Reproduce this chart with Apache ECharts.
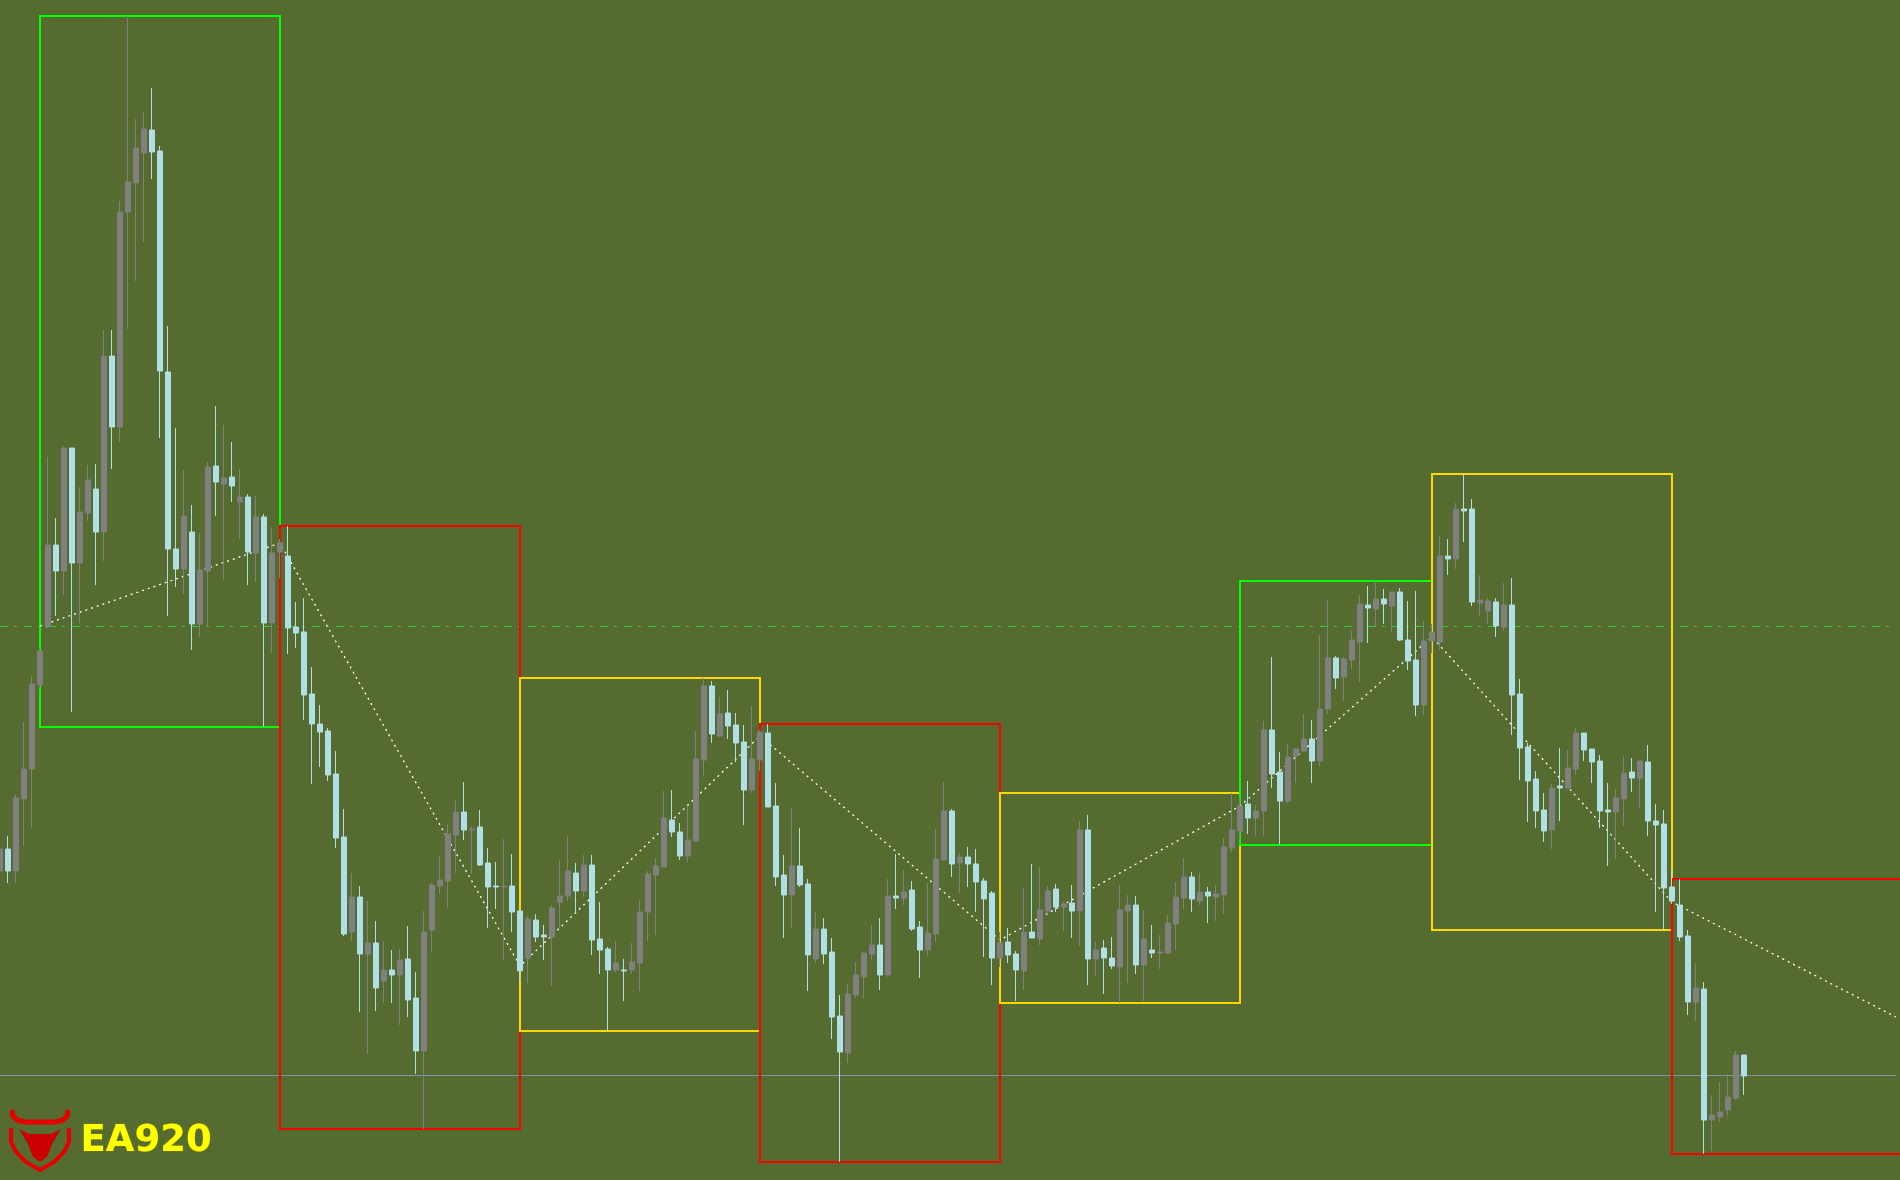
<!DOCTYPE html>
<html>
<head>
<meta charset="utf-8">
<title>EA920</title>
<script src="https://cdn.jsdelivr.net/npm/echarts@6/dist/echarts.min.js"></script>
<style>
  html, body { margin: 0; padding: 0; background: #556b2f; }
  #chart { width: 1900px; height: 1180px; }
</style>
</head>
<body>
<div id="chart"></div>
<script>
// candle OHLC (price in points)
const opens = [
  309,331,309,381,411,495,553,635,609,732, 617,667,691,648,824,753,968,997,1027,1050,
  1029,808,631,611,648,556,609,714,696,703, 678,683,627,663,557,628,624,553,548,486,
  456,449,406,343,248,283,226,237,199,210, 205,221,182,129,250,294,299,345,368,350,
  353,317,294,293,294,269,222,260,245,243, 278,284,307,289,315,241,231,210,210,210,
  217,268,305,313,360,348,324,339,420,494, 444,467,455,438,390,420,447,374,305,285,
  314,296,221,251,228,164,127,185,203,226, 235,205,284,282,290,253,230,246,320,369,
  317,323,316,299,287,222,238,226,209,248, 241,269,291,273,277,269,350,221,232,222,
  213,269,275,215,230,227,227,256,282,303, 279,288,283,285,332,349,376,362,369,450,
  408,379,424,429,441,419,471,522,503,520, 538,575,571,581,574,588,540,520,475,539,
  538,624,621,671,671,577,569,578,553,575, 486,433,401,370,350,394,392,411,447,431,
  419,370,368,381,408,402,418,359,356,293, 275,244,178,191,60,63,70,82,125
];
const closes = [
  331,309,382,411,496,529,635,609,732,617, 668,700,648,824,753,968,998,1032,1051,1028,
  809,631,611,664,556,610,713,698,702,694, 683,628,663,557,627,637,552,547,485,456,
  448,405,342,246,283,226,237,192,210,205, 220,180,129,248,295,300,346,368,350,351,
  315,293,293,294,268,209,261,243,243,272, 284,309,289,315,240,230,210,217,209,218,
  268,306,314,362,348,324,340,421,494,446, 466,454,437,390,421,448,373,303,285,314,
  295,225,251,226,163,128,186,205,227,235, 205,284,282,288,251,230,247,321,369,316,
  323,316,298,281,222,237,225,210,248,242, 270,289,273,276,269,350,221,230,222,214,
  270,275,215,241,227,228,257,283,303,281, 288,284,286,333,350,374,362,369,450,406,
  379,423,431,441,419,471,522,502,521,540, 576,572,581,576,588,540,519,475,539,548,
  624,621,671,669,578,580,579,554,575,485, 432,399,369,349,392,392,412,447,430,418,
  369,368,382,407,402,419,359,355,292,279, 243,178,192,60,65,68,83,125,104
];
const lows = [
  268,297,297,334,352,491,552,564,585,468, 557,659,595,619,711,738,851,899,938,1001,
  742,564,593,586,530,543,553,664,600,678, 641,595,598,453,527,602,526,532,460,396,
  413,399,332,244,239,168,126,169,177,177, 155,163,106,51,228,286,272,307,340,306,
  314,252,271,220,248,197,197,238,220,194, 252,279,266,283,225,206,149,208,179,206,
  189,239,245,313,343,320,318,339,404,437, 443,441,418,355,387,409,373,294,242,252,
  293,189,217,216,141,18,117,182,182,220, 190,203,271,275,249,202,224,238,319,303,
  287,293,268,223,195,213,217,179,190,242, 235,264,268,249,242,234,195,204,186,211,
  177,197,206,179,222,211,226,230,271,268, 275,257,259,266,328,341,346,344,344,392,
  335,377,397,429,397,414,466,491,479,511, 498,537,553,556,548,539,510,464,465,527,
  530,605,611,638,574,564,556,543,549,445, 400,358,352,338,331,359,392,405,419,397,
  352,314,321,354,388,372,344,268,250,276, 239,165,159,26,29,58,64,80,85
];
const highs = [
  405,344,386,458,504,531,723,662,734,732, 693,715,716,850,850,979,1164,1061,1068,1092,
  1034,854,752,710,675,647,718,774,755,738, 711,686,684,666,653,641,654,578,582,513,
  475,452,429,371,307,294,279,259,239,230, 231,254,208,269,297,324,356,380,398,354,
  370,332,318,341,326,269,264,266,255,275, 320,344,317,325,325,278,233,239,221,237,
  280,309,322,389,390,357,373,449,502,499, 483,490,467,455,474,450,456,397,325,372,
  352,301,268,262,242,185,196,218,228,255, 262,301,326,310,299,259,297,351,398,371,
  327,333,331,302,289,248,252,229,292,316, 313,294,296,278,295,359,365,238,240,243,
  295,285,284,270,255,245,265,298,322,308, 307,293,295,342,387,382,399,375,459,523,
  428,436,432,466,460,545,580,524,523,549, 585,594,599,591,588,592,579,589,559,556,
  644,641,677,706,681,605,582,582,597,602, 501,437,409,387,396,432,430,452,447,431,
  425,397,391,424,422,419,435,376,370,311, 301,250,217,198,85,98,106,129,125
];

// bar slots on the axis (the last box runs on past the last candle)
const barCount = 238;
const categories = [];
for (let i = 0; i < barCount; i++) categories.push(String(i));

// boxes: joint bar before each box and its last bar, colour kind
const boxStart = [5, 35, 65, 95, 125, 155, 179, 209];
const boxEnd = [35, 65, 95, 125, 155, 179, 209, 237];
const boxKind = ["up", "down", "flat", "down", "flat", "up", "flat", "down"];

// zigzag through the box joints
const zigzagBars = [5, 35, 65, 95, 125, 155, 179, 209, 237];
const zigzagPrices = [554, 637, 214, 444, 240, 374, 543, 278, 163];

// horizontal levels
const dashLevel = 554;
const greyLevel = 105;

const kindColor = { up: "#00ff00", down: "#ff0000", flat: "#ffd700" };

const candleData = opens.map((o, i) => [o, closes[i], lows[i], highs[i]]);

// box extents from the candle highs / lows inside each box
const boxData = boxStart.map((s, k) => {
  const e = Math.min(boxEnd[k], opens.length - 1);
  let hi = -Infinity, lo = Infinity;
  for (let i = s + 1; i <= e; i++) {
    hi = Math.max(hi, highs[i]);
    lo = Math.min(lows[i], lo);
  }
  return [s, boxEnd[k], hi, lo, k === boxStart.length - 1 ? 1 : 0];
});

const chart = echarts.init(document.getElementById("chart"));

const option = {
  backgroundColor: "#556b2f",
  animation: false,
  // bar k sits at 8k px: 238 slots, no boundary gap
  grid: { left: 0, top: 0, bottom: 0, width: 1896 },
  xAxis: {
    type: "category",
    data: categories,
    boundaryGap: false,
    show: false
  },
  yAxis: {
    type: "value",
    min: 0,
    max: 1180,
    show: false,
    splitLine: { show: false }
  },
  series: [
    {
      // range boxes
      type: "custom",
      z: 1,
      clip: false,
      data: boxData,
      renderItem: (params, api) => {
        const p1 = api.coord([api.value(0), api.value(2)]);
        const p2 = api.coord([api.value(1), api.value(3)]);
        let x2 = p2[0];
        if (api.value(4) === 1) x2 = 1910;
        return {
          type: "rect",
          shape: { x: p1[0], y: p1[1], width: x2 - p1[0], height: p2[1] - p1[1] },
          style: { fill: null, stroke: kindColor[boxKind[params.dataIndex]], lineWidth: 2 }
        };
      }
    },
    {
      type: "line",
      z: 2,
      data: zigzagBars.map((b, i) => [b, zigzagPrices[i]]),
      symbol: "none",
      silent: true,
      lineStyle: { color: "#ffffff", width: 1.3, type: [2, 4] }
    },
    {
      type: "candlestick",
      z: 3,
      data: candleData,
      barWidth: 5,
      clip: false,
      itemStyle: {
        color: "#808080",
        color0: "#b0e0e6",
        borderColor: "#808080",
        borderColor0: "#b0e0e6",
        borderWidth: 1
      },
      markLine: {
        silent: true,
        symbol: "none",
        label: { show: false },
        z: 1,
        data: [
          [{ xAxis: 0, yAxis: dashLevel }, { xAxis: 237, yAxis: dashLevel, lineStyle: { color: "#32cd32", width: 1, type: [8, 6, 3, 7] } }],
          [{ xAxis: 0, yAxis: greyLevel }, { xAxis: 237, yAxis: greyLevel, lineStyle: { color: "#8494a4", width: 1, type: "solid" } }]
        ]
      }
    }
  ],
  graphic: [
    {
      // logo: horns
      type: "polyline",
      z: 100,
      shape: { points: [[12, 1110], [13, 1116], [17, 1120], [24, 1122], [56, 1122], [63, 1120], [67, 1116], [68, 1110]] },
      style: { fill: null, stroke: "#e60000", lineWidth: 5 }
    },
    {
      // logo: shield
      type: "polyline",
      z: 100,
      shape: { points: [[11, 1128], [11, 1142], [16, 1152], [26, 1162], [40, 1170], [54, 1162], [64, 1152], [69, 1142], [69, 1128]] },
      style: { fill: null, stroke: "#e60000", lineWidth: 4 }
    },
    {
      // logo: bull head
      type: "polygon",
      z: 100,
      shape: {
        points: [[19, 1129], [29, 1134], [51, 1134], [61, 1129], [53, 1142], [47, 1157], [40, 1162], [33, 1157], [27, 1142]]
      },
      style: { fill: "#cc0000" }
    },
    {
      type: "text",
      z: 100,
      left: 80,
      top: 1122,
      style: {
        text: "EA920",
        fill: "#ffff00",
        font: "bold 37px 'DejaVu Sans'",
        stroke: "#7a7a10",
        lineWidth: 1
      }
    }
  ]
};

chart.setOption(option);
</script>
</body>
</html>
